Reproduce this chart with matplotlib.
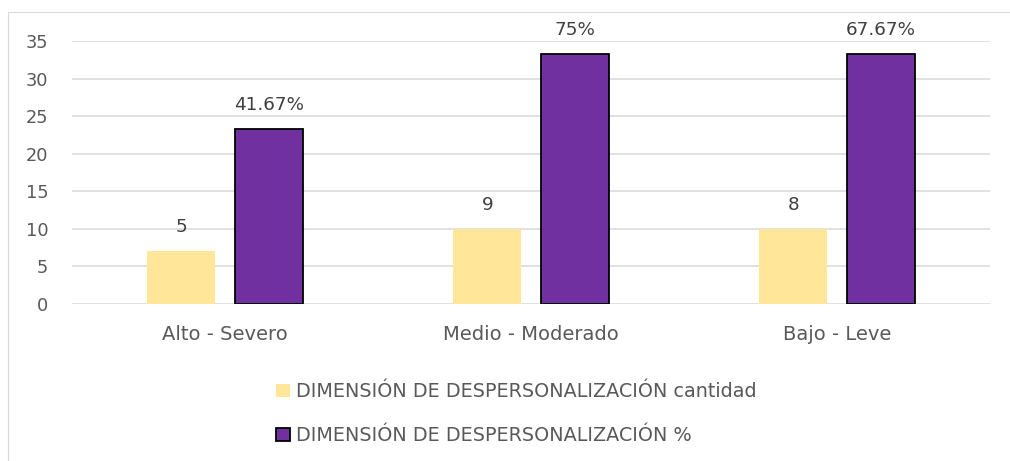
import matplotlib
matplotlib.use("Agg")
import matplotlib.pyplot as plt
from matplotlib.patches import Rectangle
import numpy as np

categories = ["Alto - Severo", "Medio - Moderado", "Bajo - Leve"]
cantidad_heights = [7, 10, 10]
cantidad_labels = ["5", "9", "8"]
pct_heights = [23.3, 33.3, 33.3]
pct_labels = ["41.67%", "75%", "67.67%"]
series_names = ["DIMENSIÓN DE DESPERSONALIZACIÓN cantidad",
                "DIMENSIÓN DE DESPERSONALIZACIÓN %"]
yticks = [0, 5, 10, 15, 20, 25, 30, 35]

plt.rcParams['font.family'] = ['DejaVu Sans']
W, H = 1010, 461
fig = plt.figure(figsize=(W / 100, H / 100), dpi=100)
ax = fig.add_axes([72 / W, 1 - 304 / H, (990 - 72) / W, (304 - 41) / H])

x = np.arange(len(categories))
bw = 0.222
b1 = ax.bar(x - 0.143, cantidad_heights, bw, color="#FFE699", zorder=3,
            label=series_names[0])
b2 = ax.bar(x + 0.143, pct_heights, bw, color="#7030A0", edgecolor="black",
            linewidth=1.3, zorder=3, label=series_names[1])

for rect, lab in zip(b1, cantidad_labels):
    ax.annotate(lab, (rect.get_x() + rect.get_width() / 2, rect.get_height()),
                xytext=(0, 19), textcoords="offset pixels", ha="center",
                va="baseline", fontsize=13.2, color="#404040")
for rect, lab in zip(b2, pct_labels):
    ax.annotate(lab, (rect.get_x() + rect.get_width() / 2, rect.get_height()),
                xytext=(0, 19), textcoords="offset pixels", ha="center",
                va="baseline", fontsize=13.2, color="#404040")

ax.set_xlim(-0.5, 2.5)
ax.set_ylim(0, 35)
ax.set_yticks(yticks)
ax.set_xticks(x)
ax.set_xticklabels(categories)
ax.tick_params(axis="y", length=0, pad=17, labelsize=12.8, labelcolor="#595959")
ax.tick_params(axis="x", length=0, pad=15, labelsize=14, labelcolor="#595959")
for s in ax.spines.values():
    s.set_visible(False)
ax.yaxis.grid(True, color="#D9D9D9", linewidth=1.1, zorder=0)
ax.set_axisbelow(True)

fig.patches.append(Rectangle((8 / W, -0.1), 2, (H - 12) / H + 0.1,
                             transform=fig.transFigure, fill=False,
                             edgecolor="#D9D9D9", linewidth=0.8))

fig.legend(handles=[b1, b2], loc="upper left",
           bbox_to_anchor=(263 / W, 1 - 369 / H), frameon=False,
           fontsize=13.8, labelcolor="#595959", handlelength=0.7,
           handleheight=0.7, handletextpad=0.3, labelspacing=1.3,
           borderpad=0.2)

fig.savefig("out.png", dpi=100)
